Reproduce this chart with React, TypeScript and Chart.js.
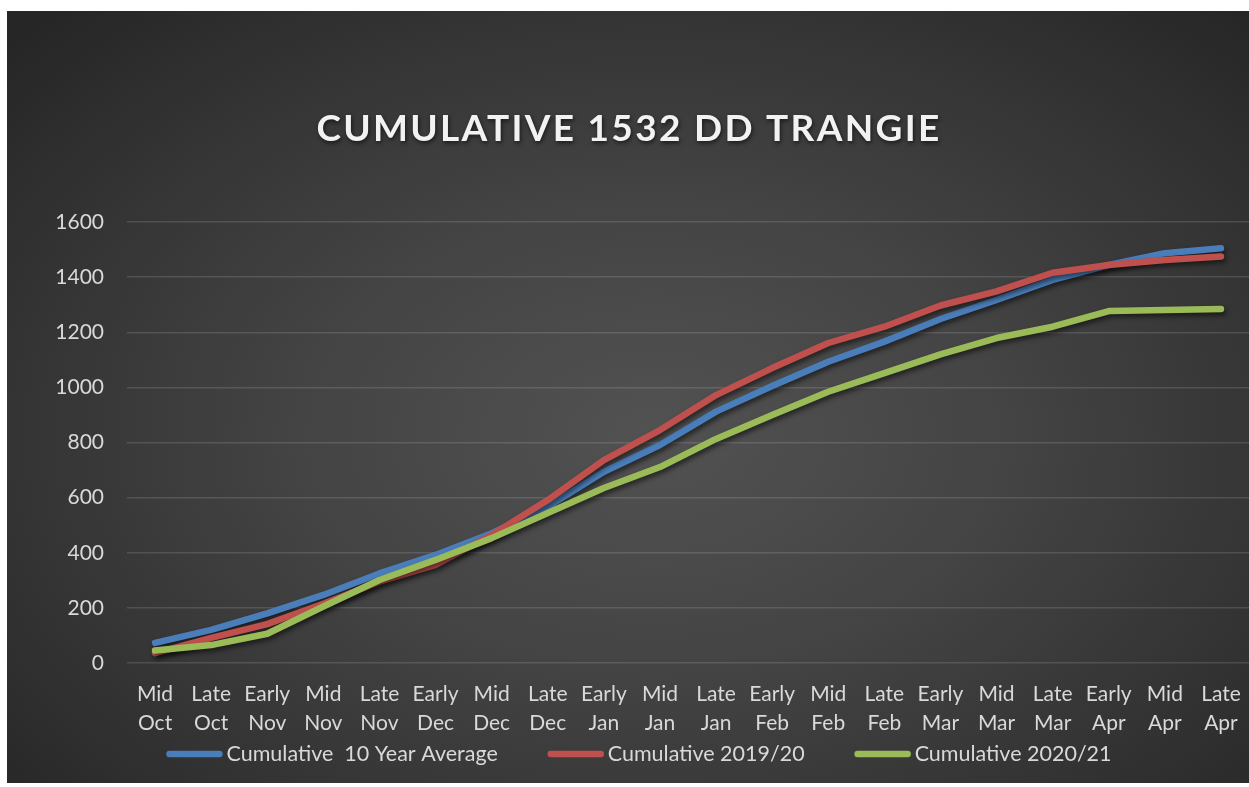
import React, { useEffect, useRef } from "react";
import { Chart, registerables } from "chart.js";

Chart.register(...registerables);

const titleText = "CUMULATIVE 1532 DD TRANGIE";

const categories: string[][] = [
  ["Mid", "Oct"], ["Late", "Oct"], ["Early", "Nov"], ["Mid", "Nov"], ["Late", "Nov"],
  ["Early", "Dec"], ["Mid", "Dec"], ["Late", "Dec"], ["Early", "Jan"], ["Mid", "Jan"],
  ["Late", "Jan"], ["Early", "Feb"], ["Mid", "Feb"], ["Late", "Feb"], ["Early", "Mar"],
  ["Mid", "Mar"], ["Late", "Mar"], ["Early", "Apr"], ["Mid", "Apr"], ["Late", "Apr"],
];

const avg10Year = [73, 120, 180, 247, 325, 392, 471, 567, 694, 791, 912, 1005, 1093, 1166, 1248, 1317, 1390, 1444, 1487, 1505];
const season1920 = [36, 91, 141, 215, 295, 356, 464, 591, 736, 845, 972, 1070, 1161, 1220, 1297, 1348, 1416, 1444, 1462, 1475];
const season2021 = [45, 65, 106, 205, 301, 374, 453, 544, 635, 711, 813, 900, 984, 1052, 1120, 1179, 1220, 1277, 1281, 1284];

const yTicks = [0, 200, 400, 600, 800, 1000, 1200, 1400, 1600];

const seriesLabels = ["Cumulative  10 Year Average", "Cumulative 2019/20", "Cumulative 2020/21"];
const seriesColors = ["#4a7ebb", "#c0504d", "#9bbb59"];

const FONT = "Lato, 'Open Sans', sans-serif";
const TEXT_COLOR = "#d9d9d9";

const shadowPlugin = {
  id: "lineShadow",
  beforeDatasetsDraw(chart: any) {
    const c = chart.ctx;
    c.save();
    c.shadowColor = "rgba(0,0,0,0.55)";
    c.shadowBlur = 5;
    c.shadowOffsetX = 2;
    c.shadowOffsetY = 3;
  },
  afterDatasetsDraw(chart: any) {
    chart.ctx.restore();
  },
};

const titlePlugin = {
  id: "customTitle",
  afterDraw(chart: any) {
    const c = chart.ctx;
    c.save();
    c.font = `bold 37px ${FONT}`;
    (c as any).letterSpacing = "2.3px";
    c.fillStyle = "#f2f2f2";
    c.textAlign = "center";
    c.textBaseline = "middle";
    c.shadowColor = "rgba(0,0,0,0.6)";
    c.shadowBlur = 4;
    c.shadowOffsetX = 1;
    c.shadowOffsetY = 2;
    c.fillText(titleText, chart.width / 2 + 1, 118);
    c.restore();
  },
};

const legendPlugin = {
  id: "customLegend",
  afterDraw(chart: any) {
    const c = chart.ctx;
    c.save();
    c.font = `21.5px ${FONT}`;
    const lineLen = 56;
    const gap = 4;
    const itemGap = 50;
    const widths = seriesLabels.map((t) => c.measureText(t).width);
    const total = widths.reduce((a, w) => a + lineLen + gap + w, 0) + itemGap * (seriesLabels.length - 1);
    let x = chart.width / 2 + 11 - total / 2;
    const y = 743;
    seriesLabels.forEach((t, i) => {
      c.beginPath();
      c.lineWidth = 6.5;
      c.lineCap = "round";
      c.strokeStyle = seriesColors[i];
      c.moveTo(x + 3, y);
      c.lineTo(x + lineLen - 3, y);
      c.stroke();
      c.fillStyle = TEXT_COLOR;
      c.textAlign = "left";
      c.textBaseline = "middle";
      c.fillText(t, x + lineLen + gap, y);
      x += lineLen + gap + widths[i] + itemGap;
    });
    c.restore();
  },
};

export default function App() {
  const ref = useRef<HTMLCanvasElement | null>(null);

  useEffect(() => {
    if (!ref.current) return;
    const mk = (i: number, data: number[], order: number) => ({
      label: seriesLabels[i],
      data,
      borderColor: seriesColors[i],
      backgroundColor: seriesColors[i],
      borderWidth: 6.5,
      borderCapStyle: "round" as const,
      borderJoinStyle: "round" as const,
      pointRadius: 0,
      tension: 0,
      fill: false,
      order,
    });
    const chart = new Chart(ref.current, {
      type: "line",
      data: {
        labels: categories,
        datasets: [mk(0, avg10Year, 3), mk(1, season1920, 2), mk(2, season2021, 1)],
      },
      options: {
        animation: false,
        responsive: false,
        events: [],
        layout: { padding: { top: 211, left: 0, right: 0, bottom: 0 } },
        plugins: {
          legend: { display: false },
          title: { display: false },
          tooltip: { enabled: false },
        },
        scales: {
          x: {
            offset: true,
            grid: { display: false, drawTicks: false },
            border: { display: false },
            ticks: {
              color: TEXT_COLOR,
              font: { family: FONT, size: 21, lineHeight: 1.38 },
              maxRotation: 0,
              minRotation: 0,
              autoSkip: false,
              padding: 17,
            },
            afterFit: (s: any) => {
              s.height = 120;
              s.paddingLeft = 0;
              s.paddingRight = 0;
            },
          },
          y: {
            min: 0,
            max: 1600,
            grid: { color: "rgba(255,255,255,0.13)", lineWidth: 1.5, drawTicks: false },
            border: { display: false },
            ticks: {
              color: TEXT_COLOR,
              font: { family: FONT, size: 21 },
              padding: 23,
              callback: (v: any) => String(v),
            },
            afterBuildTicks: (s: any) => {
              s.ticks = yTicks.map((v) => ({ value: v }));
            },
            afterFit: (s: any) => {
              s.width = 120;
            },
          },
        },
      },
      plugins: [shadowPlugin, titlePlugin, legendPlugin],
    });
    return () => chart.destroy();
  }, []);

  return (
    <div
      style={{
        position: "absolute",
        left: 7,
        top: 11,
        width: 1242,
        height: 772,
        background:
          "radial-gradient(ellipse 70% 75% at 52% 55%, #525252 0%, #444444 40%, #333333 75%, #262626 100%)",
      }}
    >
      <canvas ref={ref} width={1242} height={772} style={{ display: "block" }} />
    </div>
  );
}
